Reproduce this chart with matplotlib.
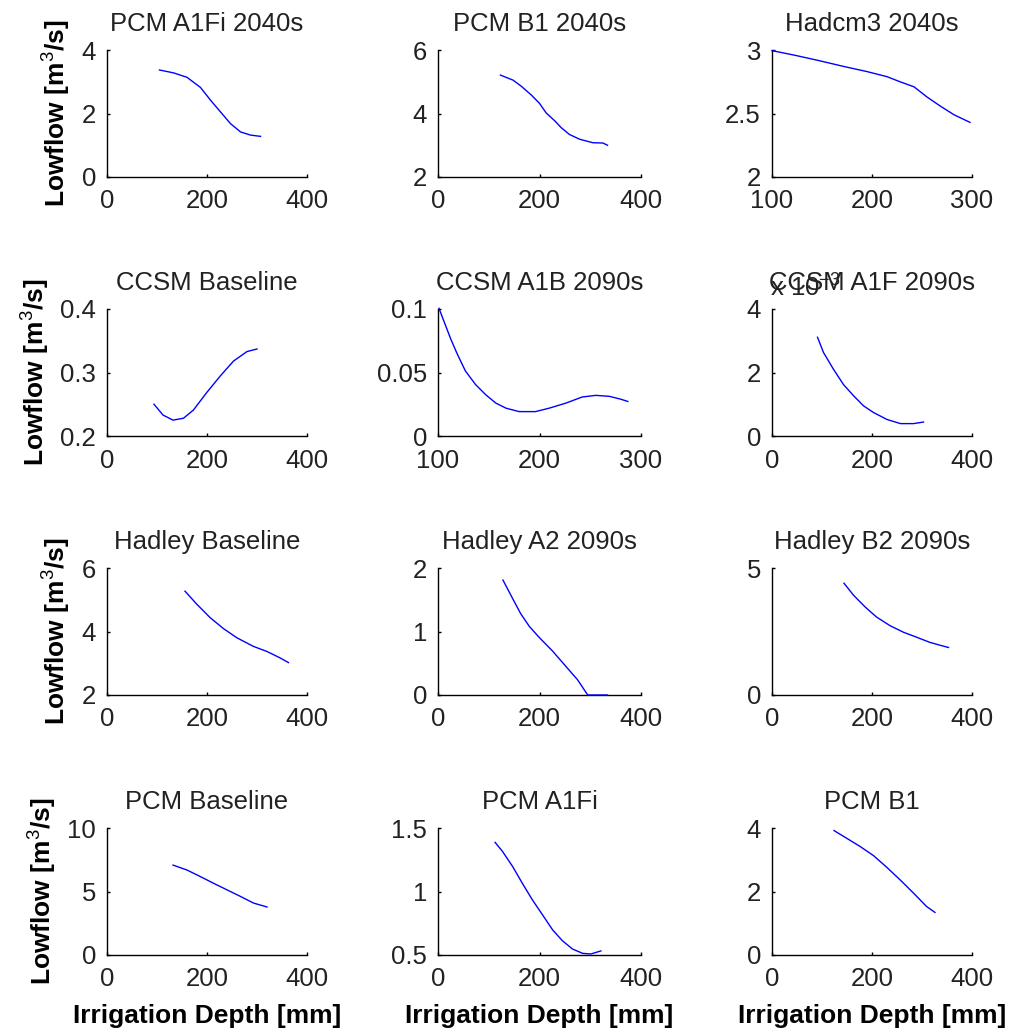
import numpy as np
import matplotlib.pyplot as plt
from matplotlib.ticker import FuncFormatter

plt.rcParams['font.family'] = ['Liberation Sans', 'DejaVu Sans']
plt.rcParams['mathtext.fontset'] = 'custom'
plt.rcParams['mathtext.rm'] = 'Liberation Sans'
plt.rcParams['mathtext.it'] = 'Liberation Sans:italic'
plt.rcParams['mathtext.bf'] = 'Liberation Sans:bold'

# Datos (profundidad de riego [mm], caudal minimo [m3/s])
pcm_a1fi_2040s_x = [105, 133, 160, 187, 207, 227, 247, 267, 287, 307]
pcm_a1fi_2040s_y = [3.37, 3.28, 3.14, 2.82, 2.42, 2.05, 1.68, 1.42, 1.32, 1.28]

pcm_b1_2040s_x = [123, 148, 164, 184, 200, 213, 230, 243, 259, 279, 305, 325, 334]
pcm_b1_2040s_y = [5.21, 5.05, 4.86, 4.58, 4.32, 4.02, 3.77, 3.55, 3.34, 3.19, 3.08, 3.07, 3.00]

hadcm3_2040s_x = [100, 122, 145, 172, 195, 215, 228, 242, 255, 268, 282, 298]
hadcm3_2040s_y = [2.995, 2.96, 2.92, 2.87, 2.83, 2.79, 2.75, 2.71, 2.63, 2.56, 2.49, 2.43]

ccsm_base_x = [94, 112, 132, 153, 173, 199, 226, 253, 280, 300]
ccsm_base_y = [0.250, 0.233, 0.225, 0.228, 0.241, 0.268, 0.294, 0.318, 0.333, 0.337]

ccsm_a1b_2090s_x = [101, 106, 112.5, 119, 127, 137, 147, 157, 167, 180, 196, 209.5,
                    226, 242, 255.5, 269, 280, 287]
ccsm_a1b_2090s_y = [0.1005, 0.090, 0.0765, 0.0645, 0.0512, 0.0405, 0.0325, 0.0259,
                    0.0219, 0.0192, 0.0192, 0.0219, 0.0259, 0.0307, 0.032, 0.0312,
                    0.029, 0.0272]

ccsm_a1f_2090s_x = [91, 103, 123, 143, 163, 183, 203, 230, 257, 283, 303]
ccsm_a1f_2090s_y = [3.11e-3, 2.63e-3, 2.10e-3, 1.62e-3, 1.27e-3, 0.95e-3, 0.74e-3,
                    0.52e-3, 0.39e-3, 0.39e-3, 0.44e-3]

hadley_base_x = [156, 179, 206, 233, 260, 293, 320, 346, 363]
hadley_base_y = [5.27, 4.87, 4.44, 4.09, 3.80, 3.53, 3.37, 3.17, 3.02]

hadley_a2_2090s_x = [128, 147, 163, 180, 199, 226, 252, 275, 295, 334]
hadley_a2_2090s_y = [1.81, 1.52, 1.28, 1.08, 0.91, 0.69, 0.45, 0.24, 0.0, 0.0]

hadley_b2_2090s_x = [144, 163, 186, 209, 236, 263, 290, 316, 336, 353]
hadley_b2_2090s_y = [4.40, 3.93, 3.47, 3.07, 2.73, 2.47, 2.27, 2.07, 1.96, 1.87]

pcm_base_x = [132, 160, 187, 213, 240, 267, 293, 320]
pcm_base_y = [7.08, 6.69, 6.17, 5.65, 5.13, 4.61, 4.09, 3.78]

pcm_a1fi_x = [112.5, 127, 147, 166, 186, 206, 226, 245, 265, 285, 301, 321]
pcm_a1fi_y = [1.387, 1.316, 1.197, 1.066, 0.934, 0.816, 0.697, 0.613, 0.547, 0.513,
              0.508, 0.532]

pcm_b1_x = [124, 149, 176, 203, 229, 256, 283, 309, 326]
pcm_b1_y = [3.92, 3.68, 3.42, 3.13, 2.77, 2.37, 1.95, 1.53, 1.34]

titulos = ['PCM A1Fi 2040s', 'PCM B1 2040s', 'Hadcm3 2040s',
           'CCSM Baseline', 'CCSM A1B 2090s', 'CCSM A1F 2090s',
           'Hadley Baseline', 'Hadley A2 2090s', 'Hadley B2 2090s',
           'PCM Baseline', 'PCM A1Fi', 'PCM B1']
series = [(pcm_a1fi_2040s_x, pcm_a1fi_2040s_y), (pcm_b1_2040s_x, pcm_b1_2040s_y),
          (hadcm3_2040s_x, hadcm3_2040s_y), (ccsm_base_x, ccsm_base_y),
          (ccsm_a1b_2090s_x, ccsm_a1b_2090s_y), (ccsm_a1f_2090s_x, ccsm_a1f_2090s_y),
          (hadley_base_x, hadley_base_y), (hadley_a2_2090s_x, hadley_a2_2090s_y),
          (hadley_b2_2090s_x, hadley_b2_2090s_y), (pcm_base_x, pcm_base_y),
          (pcm_a1fi_x, pcm_a1fi_y), (pcm_b1_x, pcm_b1_y)]
x_ticks = [[0, 200, 400], [0, 200, 400], [100, 200, 300],
           [0, 200, 400], [100, 200, 300], [0, 200, 400],
           [0, 200, 400], [0, 200, 400], [0, 200, 400],
           [0, 200, 400], [0, 200, 400], [0, 200, 400]]
y_ticks = [[0, 2, 4], [2, 4, 6], [2, 2.5, 3],
           [0.2, 0.3, 0.4], [0, 0.05, 0.1], [0, 2e-3, 4e-3],
           [2, 4, 6], [0, 1, 2], [0, 5],
           [0, 5, 10], [0.5, 1, 1.5], [0, 2, 4]]

# Posicion de los ejes en pixeles
W, H = 1013, 1034
col_left = [107, 438, 772]
col_width = [200, 203, 200]
row_bottom = [177, 436, 695, 955]
alto = 127

fig = plt.figure(figsize=(W / 100, H / 100), dpi=100)
fs = 18.5

for i in range(12):
    r, c = divmod(i, 3)
    ax = fig.add_axes([col_left[c] / W, 1 - row_bottom[r] / H,
                       col_width[c] / W, alto / H])
    xs, ys = series[i]
    ax.plot(xs, ys, color='#0000ff', lw=1.0, zorder=3, clip_on=False)
    ax.set_xlim(x_ticks[i][0], x_ticks[i][-1])
    ax.set_ylim(y_ticks[i][0], y_ticks[i][-1])
    ax.set_xticks(x_ticks[i])
    ax.set_yticks(y_ticks[i])
    if i == 5:
        ax.yaxis.set_major_formatter(FuncFormatter(lambda v, p: '%g' % (v * 1000)))
        ax.text(-0.01, 1.1, r'x 10$^{-3}$', transform=ax.transAxes, fontsize=fs,
                ha='left', va='baseline', color='#222222')
    else:
        ax.yaxis.set_major_formatter(FuncFormatter(lambda v, p: '%g' % v))
    for s in ['top', 'right']:
        ax.spines[s].set_visible(False)
    for s in ['left', 'bottom']:
        ax.spines[s].set_linewidth(1.0)
    ax.tick_params(direction='in', length=2.5, width=1.0, labelsize=fs,
                   labelcolor='#222222')
    ax.tick_params(axis='x', pad=9)
    ax.tick_params(axis='y', pad=8)
    ax.set_title(titulos[i], fontsize=fs, pad=14, color='#222222')
    if c == 0:
        ax.set_ylabel('Lowflow [m$^3$/s]', fontsize=19, fontweight='bold', labelpad=6)
    if r == 3:
        ax.set_xlabel('Irrigation Depth [mm]', fontsize=19, fontweight='bold', labelpad=9)

fig.savefig('out.png', dpi=100)
